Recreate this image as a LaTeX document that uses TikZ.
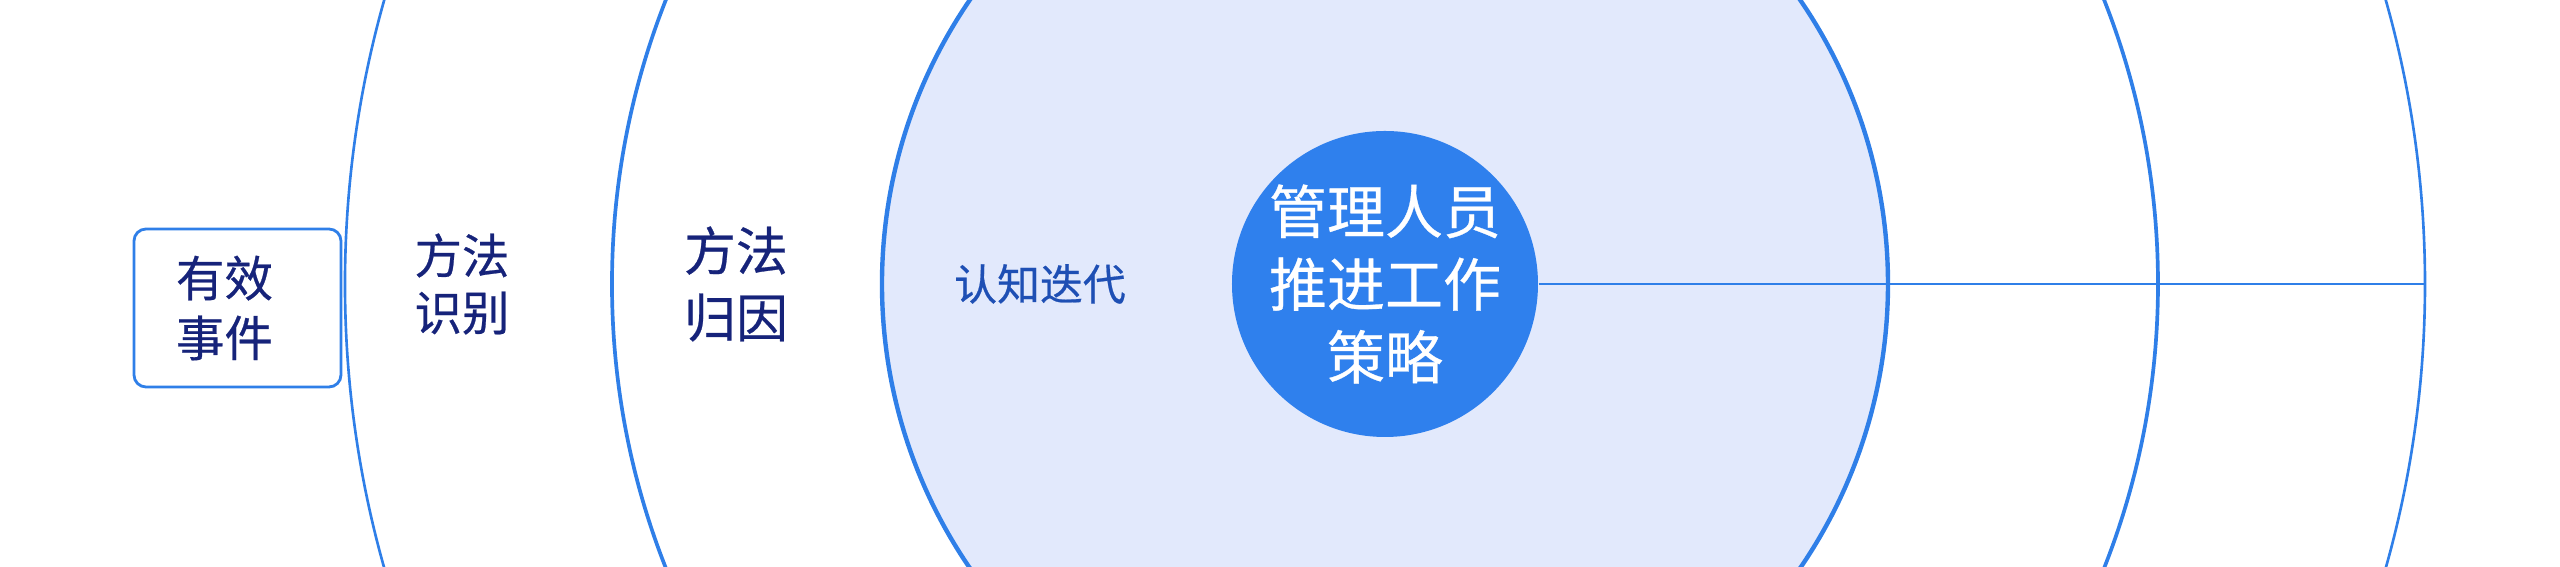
\documentclass[tikz,border=0pt]{standalone}
\usepackage{fontspec}
\usepackage{xcolor}
\usepackage{tikz}
\usetikzlibrary{positioning}
\newfontfamily\cjk[FakeBold=0.5]{Noto Sans CJK SC}
\definecolor{ringblue}{HTML}{2F7FE8}
\definecolor{coreblue}{HTML}{2F80ED}
\definecolor{innerfill}{HTML}{E2E9FC}
\definecolor{labelnavy}{HTML}{16237A}
\definecolor{labelblue}{HTML}{1E4FB4}

\begin{document}
\begin{tikzpicture}[
   ring/.style = {draw=ringblue, circle, inner sep=0pt},
   core/.style = {circle, fill=coreblue, minimum size=3.06cm, inner sep=0pt, text=white, align=center, font=\cjk\fontsize{16.5}{20.7}\selectfont},
   eventbox/.style = {draw=ringblue, rectangle, rounded corners=0.12cm, line width=0.8pt, fill=white, minimum height=1.58cm, text width=1.23cm, inner xsep=0.42cm, align=left, text=labelnavy, font=\cjk\fontsize{13.8}{17}\selectfont},
   ringtext/.style = {align=center, inner sep=0pt, text=labelnavy},
   line/.style = {draw=ringblue, line width=0.8pt}
   ]
  \useasboundingbox (-13.85,-2.83) rectangle (11.75,2.84);

  % Rings
  \node[ring, line width=0.75pt, minimum size=20.8cm] (outer) at (0,0) {};
  \node[ring, line width=1.05pt, minimum size=15.46cm] (middle) at (0,0) {};
  \node[ring, fill=innerfill, line width=1.25pt, minimum size=10.06cm] (inner) at (0,0) {};

  % Core
  \node[core] (strategy) at (0,0) {管理人员\\推进工作\\策略};

  % Ring labels
  \node[ringtext, font=\cjk\fontsize{13.5}{16.2}\selectfont] (identify) at (-9.23,0) {方法\\识别};
  \node[ringtext, font=\cjk\fontsize{14.8}{19}\selectfont] (attribute) at (-6.49,0) {方法\\归因};
  \node[ringtext, text=labelblue, font=\cjk\fontsize{12.2}{15}\selectfont] (iterate) at (-3.45,0) {认知迭代};

  % Event box
  \node[eventbox] (event) at (-11.475,-0.24) {有效\\事件};

  % Connector
  \draw[line] (strategy.east) -- (outer.east);
\end{tikzpicture}
\end{document}
